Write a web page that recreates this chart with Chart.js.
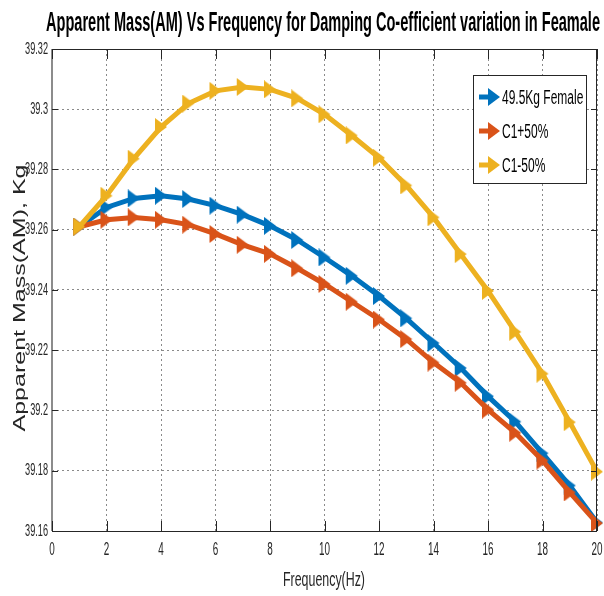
<!DOCTYPE html>
<html>
<head>
<meta charset="utf-8">
<script src="https://cdn.jsdelivr.net/npm/chart.js@4.4.0/dist/chart.umd.min.js"></script>
<style>
  html, body { margin: 0; padding: 0; background: #fff; }
  #wrap { width: 604px; height: 596px; }
</style>
</head>
<body>
<div id="wrap"><canvas id="am-chart" width="604" height="596"></canvas></div>
<script>
// Apparent mass vs frequency, damping coefficient variation (female, 49.5 kg)

const freqHz = [1, 2, 3, 4, 5, 6, 7, 8, 9, 10, 11, 12, 13, 14, 15, 16, 17, 18, 19, 20];

const amFemale = [39.2610, 39.2674, 39.2704, 39.2713, 39.2702, 39.2680, 39.2650, 39.2613, 39.2566, 39.2508,
                  39.2447, 39.2380, 39.2306, 39.2224, 39.2141, 39.2047, 39.1963, 39.1858, 39.1751, 39.1628];
const amC1Plus = [39.2610, 39.2633, 39.2641, 39.2633, 39.2617, 39.2586, 39.2550, 39.2520, 39.2472, 39.2420,
                  39.2361, 39.2302, 39.2237, 39.2159, 39.2092, 39.2003, 39.1926, 39.1834, 39.1728, 39.1626];
const amC1Minus = [39.2610, 39.2713, 39.2836, 39.2941, 39.3019, 39.3061, 39.3074, 39.3066, 39.3036, 39.2983,
                   39.2913, 39.2839, 39.2747, 39.2641, 39.2519, 39.2397, 39.2261, 39.2122, 39.1961, 39.1797];

const seriesNames = ['49.5Kg Female', 'C1+50%', 'C1-50%'];
const seriesColors = ['#0072BD', '#D95319', '#EDB120'];

const xTicks = [0, 2, 4, 6, 8, 10, 12, 14, 16, 18, 20];
const yTicks = [39.16, 39.18, 39.2, 39.22, 39.24, 39.26, 39.28, 39.3, 39.32];
const yTickLabels = ['39.16', '39.18', '39.2', '39.22', '39.24', '39.26', '39.28', '39.3', '39.32'];

const chartTitle = 'Apparent Mass(AM) Vs Frequency for Damping Co-efficient variation in Feamale';
const xTitle = 'Frequency(Hz)';
const yTitle = 'Apparent Mass(AM), Kg';

const FONT = '"Liberation Sans", Arial, sans-serif';

function toPoints(values) {
  return freqHz.map((f, i) => ({ x: f, y: values[i] }));
}

// draws text squeezed horizontally; sx can be a number or {width} to fit
function squeezedText(ctx, text, x, y, font, sx, align, baseline) {
  ctx.save();
  ctx.font = font;
  let scale = sx;
  if (typeof sx === 'object') scale = sx.width / ctx.measureText(text).width;
  ctx.translate(x, y);
  ctx.scale(scale, 1);
  ctx.textAlign = align || 'left';
  ctx.textBaseline = baseline || 'alphabetic';
  ctx.fillText(text, 0, 0);
  ctx.restore();
}

// narrow right-pointing triangle
function drawMarker(ctx, x, y, color) {
  ctx.save();
  ctx.fillStyle = color;
  ctx.beginPath();
  ctx.moveTo(x + 7, y);
  ctx.lineTo(x - 5, y - 9);
  ctx.lineTo(x - 5, y + 9);
  ctx.closePath();
  ctx.fill();
  ctx.restore();
}

function markerImage(color) {
  const c = document.createElement('canvas');
  c.width = 14;
  c.height = 18;
  drawMarker(c.getContext('2d'), 6, 9, color);
  return c;
}

// frame, inner tick marks, tick labels, titles and legend
const decorPlugin = {
  id: 'decor',
  afterDatasetsDraw(chart) {
    const ctx = chart.ctx;
    const area = chart.chartArea;
    const xs = chart.scales.x;
    const ys = chart.scales.y;

    // box
    ctx.save();
    ctx.strokeStyle = '#262626';
    ctx.lineWidth = 1;
    ctx.strokeRect(area.left + 0.5, area.top + 0.5, area.right - area.left - 1, area.bottom - area.top);
    ctx.strokeStyle = '#8c8c8c';
    ctx.lineWidth = 2;
    ctx.beginPath();
    ctx.moveTo(area.left, area.top);
    ctx.lineTo(area.left, area.bottom);
    ctx.stroke();

    // inner ticks
    ctx.strokeStyle = '#262626';
    ctx.lineWidth = 1;
    ctx.beginPath();
    xTicks.forEach(v => {
      const px = Math.round(xs.getPixelForValue(v)) + 0.5;
      ctx.moveTo(px, area.bottom);
      ctx.lineTo(px, area.bottom - 10);
      ctx.moveTo(px, area.top);
      ctx.lineTo(px, area.top + 10);
    });
    yTicks.forEach(v => {
      const py = Math.round(ys.getPixelForValue(v)) + 0.5;
      ctx.moveTo(area.left, py);
      ctx.lineTo(area.left + 6, py);
      ctx.moveTo(area.right, py);
      ctx.lineTo(area.right - 6, py);
    });
    ctx.stroke();
    ctx.restore();

    // tick labels
    ctx.save();
    ctx.fillStyle = '#262626';
    yTicks.forEach((v, i) => {
      squeezedText(ctx, yTickLabels[i], area.left - 4, ys.getPixelForValue(v), '17px ' + FONT, 0.54, 'right', 'middle');
    });
    xTicks.forEach(v => {
      squeezedText(ctx, String(v), xs.getPixelForValue(v), area.bottom + 24, '18px ' + FONT, 0.55, 'center', 'alphabetic');
    });

    // titles
    ctx.fillStyle = '#000';
    squeezedText(ctx, chartTitle, 323, 31, 'bold 27px ' + FONT, { width: 554 }, 'center', 'alphabetic');
    ctx.fillStyle = '#262626';
    squeezedText(ctx, xTitle, 324, 586, '20px ' + FONT, { width: 82 }, 'center', 'alphabetic');

    // rotated y title
    ctx.save();
    ctx.font = '25px ' + FONT;
    const len = ctx.measureText(yTitle).width;
    ctx.translate(25, 298);
    ctx.rotate(-Math.PI / 2);
    ctx.scale(267 / len, 0.65);
    ctx.textAlign = 'center';
    ctx.textBaseline = 'alphabetic';
    ctx.fillText(yTitle, 0, 0);
    ctx.restore();
    ctx.restore();

    // legend
    const box = { left: 473, top: 75, right: 586, bottom: 183 };
    const rows = [97, 131, 165];
    ctx.save();
    ctx.fillStyle = '#fff';
    ctx.fillRect(box.left, box.top, box.right - box.left, box.bottom - box.top);
    ctx.strokeStyle = '#262626';
    ctx.lineWidth = 1;
    ctx.strokeRect(box.left + 0.5, box.top + 0.5, box.right - box.left, box.bottom - box.top);
    chart.data.datasets.forEach((ds, i) => {
      const y = rows[i];
      ctx.strokeStyle = ds.borderColor;
      ctx.lineWidth = 5;
      ctx.beginPath();
      ctx.moveTo(479, y);
      ctx.lineTo(493, y);
      ctx.stroke();
      drawMarker(ctx, 493, y, ds.borderColor);
      ctx.fillStyle = '#000';
      squeezedText(ctx, ds.label, 502, y + 7, '20px ' + FONT, 0.6, 'left', 'alphabetic');
    });
    ctx.restore();
  }
};

const seriesValues = [amFemale, amC1Plus, amC1Minus];
const datasets = seriesValues.map((vals, i) => ({
  label: seriesNames[i],
  data: toPoints(vals),
  borderColor: seriesColors[i],
  backgroundColor: seriesColors[i],
  borderWidth: 5,
  tension: 0,
  fill: false,
  pointStyle: markerImage(seriesColors[i]),
  pointRadius: 8,
  clip: false,
  order: 3 - i
}));

const gridStyle = { color: '#8a8a8a', lineWidth: 1, drawTicks: false, tickLength: 0 };

new Chart(document.getElementById('am-chart'), {
  type: 'line',
  data: { datasets },
  plugins: [decorPlugin],
  options: {
    responsive: false,
    animation: false,
    devicePixelRatio: 1,
    layout: { autoPadding: false, padding: { top: 49, right: 7, left: 0, bottom: 0 } },
    plugins: { legend: { display: false }, tooltip: { enabled: false }, title: { display: false } },
    scales: {
      x: {
        type: 'linear',
        min: 0,
        max: 20,
        afterBuildTicks: s => { s.ticks = xTicks.map(v => ({ value: v })); },
        ticks: { display: false },
        grid: gridStyle,
        border: { display: false, dash: [2, 3] },
        afterFit: s => { s.height = 65; }
      },
      y: {
        min: 39.16,
        max: 39.32,
        afterBuildTicks: s => { s.ticks = yTicks.map(v => ({ value: v })); },
        ticks: { display: false },
        grid: gridStyle,
        border: { display: false, dash: [2, 3] },
        afterFit: s => { s.width = 52; }
      }
    }
  }
});
</script>
</body>
</html>
